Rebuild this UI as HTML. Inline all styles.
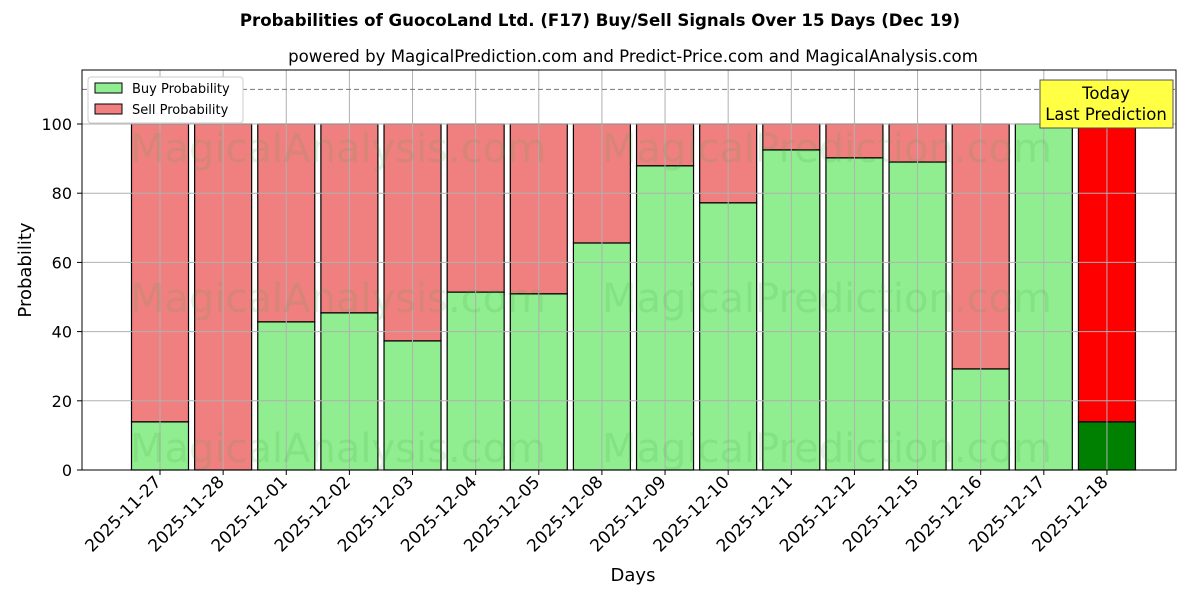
<!DOCTYPE html>
<html><head><meta charset="utf-8"><style>
body{margin:0;background:#fff;}
svg{display:block;font-family:"DejaVu Sans","Liberation Sans",sans-serif;}
</style></head><body>
<svg id="chart" width="1200" height="600" viewBox="0 0 1200 600">
<text x="600" y="26" text-anchor="middle" font-size="16.6" font-weight="bold">Probabilities of GuocoLand Ltd. (F17) Buy/Sell Signals Over 15 Days (Dec 19)</text>
<text x="633" y="62" text-anchor="middle" font-size="16.6">powered by MagicalPrediction.com and Predict-Price.com and MagicalAnalysis.com</text>
<g id="bars"></g>
<g id="grid"></g>
<g id="wm" font-size="40" fill="rgba(60,160,60,0.14)">
<text x="130" y="162">MagicalAnalysis.com</text><text x="602" y="162">MagicalPrediction.com</text>
<text x="130" y="312">MagicalAnalysis.com</text><text x="602" y="312">MagicalPrediction.com</text>
<text x="130" y="462">MagicalAnalysis.com</text><text x="602" y="462">MagicalPrediction.com</text>
</g>
<line x1="82" x2="1176" y1="89.4" y2="89.4" stroke="#777" stroke-dasharray="5,3"/>
<rect x="82" y="70" width="1094" height="400" fill="none" stroke="#000"/>
<g id="ticks"></g>
<text x="633" y="581" text-anchor="middle" font-size="18">Days</text>
<text transform="translate(31,270) rotate(-90)" text-anchor="middle" font-size="18">Probability</text>
<g>
<rect x="88" y="77" width="155" height="46" fill="#fff" stroke="#ccc" rx="3"/>
<rect x="95" y="83" width="27" height="10" fill="#90ee90" stroke="#000"/>
<text x="132" y="93" font-size="13">Buy Probability</text>
<rect x="95" y="104" width="27" height="10" fill="#f08080" stroke="#000"/>
<text x="132" y="114" font-size="13">Sell Probability</text>
</g>
<g>
<rect x="1040" y="80" width="133" height="48" fill="#ffff44" stroke="#555"/>
<text x="1106" y="99" text-anchor="middle" font-size="16.5">Today</text>
<text x="1106" y="120" text-anchor="middle" font-size="16.5">Last Prediction</text>
</g>
</svg>
<script>
const categories=["2025-11-27","2025-11-28","2025-12-01","2025-12-02","2025-12-03","2025-12-04","2025-12-05","2025-12-08","2025-12-09","2025-12-10","2025-12-11","2025-12-12","2025-12-15","2025-12-16","2025-12-17","2025-12-18"];
const buyValues=[13.9,0,42.8,45.4,37.3,51.4,50.9,65.6,87.9,77.2,92.5,90.2,89.0,29.2,100,13.9];
const yTicks=[0,20,40,60,80,100];
const NS="http://www.w3.org/2000/svg";
const xS=i=>160+i*63.13, yS=v=>470-v*3.46;
function mk(tag,attrs,parent){const e=document.createElementNS(NS,tag);for(const k in attrs)e.setAttribute(k,attrs[k]);parent.appendChild(e);return e;}
const grid=document.getElementById('grid'),bars=document.getElementById('bars'),ticks=document.getElementById('ticks');
yTicks.forEach(t=>{
 const l=mk('line',{x1:82,x2:1176,y1:yS(t),y2:yS(t),stroke:'#b0b0b0'},grid);
 
 
 const tx=mk('text',{x:72,y:yS(t)+6,'text-anchor':'end','font-size':16},ticks);tx.textContent=t;
 
 
 mk('line',{x1:77,x2:82,y1:yS(t),y2:yS(t),stroke:'#000'},ticks);
});
categories.forEach((c,i)=>{
 const x=xS(i);
 const g=mk('line',{x1:x,x2:x,y1:70,y2:470,stroke:'#b0b0b0'},grid);
 
 
 const last=i===categories.length-1;
 const b=buyValues[i];
 const s=mk('rect',{x:x-28.5,y:yS(100),width:57,height:yS(b)-yS(100),fill:last?'#ff0000':'#f08080',stroke:'#000','stroke-width':1.2},bars);
 
 
 const r=mk('rect',{x:x-28.5,y:yS(b),width:57,height:yS(0)-yS(b),fill:last?'#008000':'#90ee90',stroke:'#000','stroke-width':1.2},bars);
 
 
 mk('line',{x1:x,x2:x,y1:470,y2:475,stroke:'#000'},ticks);
 const t=mk('text',{x:x+2,y:483,'text-anchor':'end','font-size':17,transform:`rotate(-45 ${x+2} 483)`},ticks);
 t.textContent=c;
 
 
});
</script>
</body></html>
